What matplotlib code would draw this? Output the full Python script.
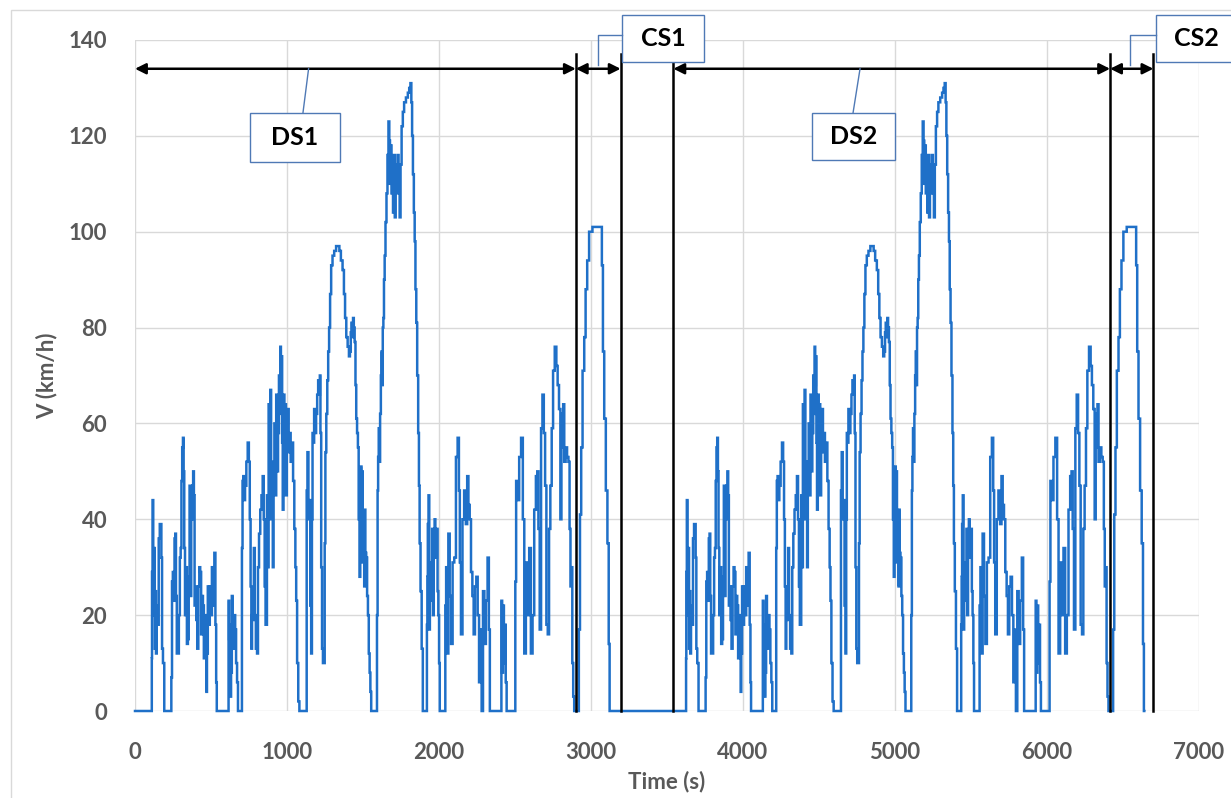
import matplotlib
matplotlib.use("Agg")
import matplotlib.pyplot as plt
from matplotlib.patches import Rectangle

# ---------------- data ----------------
# one test cycle (charge-depleting part + charge-sustaining part), time in s, speed in km/h
cycle_t = [0, 110, 111, 113, 118, 122, 125, 128, 132, 136, 140, 146, 152, 160, 166, 171, 176, 180, 188, 197,
           237, 241, 246, 252, 257, 263, 267, 272, 278, 285, 292, 298, 303, 308, 313, 318, 322, 326, 332, 338,
           345, 351, 356, 362, 367, 373, 380, 385, 390, 394, 400, 406, 413, 420, 426, 432, 438, 444, 450, 456,
           462, 468, 471, 476, 482, 488, 496, 502, 510, 518, 526, 532, 536, 540,
           614, 617, 622, 627, 630, 634, 640, 645, 650, 656, 662, 668, 675, 680,
           702, 705, 710, 715, 720, 728, 737, 746, 752, 758, 763, 768, 772, 778, 786, 790, 800, 806, 812, 820,
           828, 836, 844, 850, 856, 862, 866, 870, 876, 882, 887, 893, 898, 904, 909, 914, 920, 926, 932, 938,
           944, 950, 954, 958, 962, 966, 970, 974, 980, 986, 990, 996, 1002, 1008, 1014, 1020, 1028, 1036,
           1044, 1052, 1058, 1063, 1070, 1078, 1085,
           1128, 1131, 1138, 1144, 1150, 1156, 1162, 1166, 1170, 1176, 1181, 1188, 1195, 1202, 1208, 1214,
           1218, 1222, 1228, 1233, 1240, 1246, 1250, 1255, 1262, 1268, 1274, 1280, 1287, 1294, 1305, 1316,
           1330, 1340, 1349, 1360, 1371, 1378, 1386, 1394, 1404, 1411, 1417, 1422, 1426, 1432, 1437, 1442,
           1448, 1453, 1458, 1464, 1469, 1474, 1480, 1484, 1488, 1492, 1496, 1500, 1506, 1510, 1513, 1518,
           1524, 1530, 1535, 1541, 1546, 1551, 1557,
           1590, 1594, 1598, 1601, 1606, 1610, 1615, 1620, 1623, 1628, 1632, 1636, 1640, 1645, 1651, 1658,
           1664, 1671, 1675, 1680, 1685, 1690, 1695, 1700, 1706, 1712, 1718, 1724, 1730, 1738, 1744, 1750,
           1758, 1766, 1775, 1790, 1800, 1808, 1816, 1820, 1826, 1831, 1838, 1842, 1848, 1853, 1860, 1866,
           1870, 1875, 1882, 1890, 1897,
           1919, 1922, 1925, 1928, 1934, 1938, 1942, 1947, 1952, 1958, 1963, 1968, 1974, 1978, 1983, 1988,
           1993, 1998, 2003, 2007,
           2040, 2043, 2051, 2057, 2066, 2075, 2084, 2095, 2106, 2117, 2128, 2134, 2140, 2149, 2160, 2171,
           2182, 2189, 2198, 2206, 2215, 2224, 2232, 2241, 2250, 2259, 2268, 2276, 2285, 2294, 2303, 2314,
           2325, 2331, 2338,
           2408, 2413, 2418, 2424, 2430, 2436, 2442, 2448,
           2500, 2504, 2511, 2522, 2533, 2547, 2556, 2566, 2577, 2588, 2599, 2610, 2621, 2632, 2643, 2650,
           2658, 2667, 2676, 2685, 2694, 2702, 2711, 2720, 2728, 2737, 2746, 2755, 2768, 2776, 2785, 2794,
           2803, 2808, 2814, 2820, 2828, 2838, 2847, 2856, 2862, 2868, 2874, 2880, 2886, 2893,
           2917, 2923, 2932, 2939, 2950, 2961, 2968, 2982, 2993, 3004, 3015, 3030, 3045, 3059, 3068, 3075,
           3082, 3092, 3103, 3113, 3120, 3125]
cycle_v = [0, 0, 11, 29, 44, 30, 20, 34, 13, 25, 12, 22, 18, 36, 39, 39, 32, 13, 10, 0,
           0, 7, 27, 29, 23, 36, 37, 24, 12, 12, 20, 32, 34, 48, 55, 57, 50, 34, 20, 30,
           14, 15, 28, 47, 24, 40, 47, 50, 45, 22, 26, 19, 13, 26, 30, 29, 16, 24, 22, 11,
           18, 20, 4, 12, 26, 18, 26, 20, 30, 22, 33, 18, 6, 0,
           0, 23, 15, 18, 3, 8, 24, 15, 13, 20, 17, 10, 6, 0,
           0, 34, 48, 49, 44, 47, 52, 56, 52, 40, 26, 13, 20, 19, 34, 20, 13, 12, 30, 37,
           42, 45, 49, 40, 26, 18, 18, 45, 30, 64, 40, 67, 44, 52, 30, 48, 60, 45, 66, 50,
           58, 70, 62, 76, 68, 74, 56, 42, 66, 50, 64, 45, 60, 63, 54, 58, 52, 56,
           48, 38, 30, 23, 10, 2, 0,
           0, 46, 54, 40, 44, 22, 12, 40, 58, 56, 63, 58, 62, 66, 69, 66,
           70, 58, 30, 13, 10, 10, 35, 54, 62, 69, 75, 80, 87, 93, 95, 96,
           97, 97, 96, 94, 92, 87, 82, 78, 76, 74, 75, 79, 81, 78, 82, 80,
           77, 68, 61, 58, 55, 40, 28, 46, 51, 38, 50, 31, 40, 26, 42, 33,
           32, 24, 20, 12, 8, 4, 0,
           0, 20, 46, 53, 59, 52, 62, 70, 75, 68, 80, 82, 90, 95, 102, 108,
           116, 123, 119, 110, 118, 108, 112, 104, 116, 103, 114, 108, 116, 110, 103, 114,
           122, 125, 127, 128, 129, 130, 131, 127, 120, 112, 104, 98, 88, 81, 70, 58,
           47, 35, 25, 13, 0,
           0, 18, 28, 39, 45, 17, 23, 31, 24, 38, 20, 32, 40, 36, 32, 38,
           25, 20, 10, 0,
           0, 22, 30, 12, 37, 24, 14, 31, 32, 53, 57, 46, 31, 16, 40, 46,
           39, 49, 43, 40, 29, 24, 16, 26, 28, 20, 6, 17, 0, 25, 14, 23,
           32, 17, 0,
           0, 23, 8, 22, 10, 18, 6, 0,
           0, 27, 48, 44, 53, 57, 40, 12, 31, 20, 34, 12, 20, 42, 49, 50,
           38, 17, 59, 66, 58, 47, 18, 16, 38, 47, 59, 71, 76, 72, 68, 63,
           40, 62, 55, 64, 52, 55, 53, 52, 38, 26, 30, 10, 3, 0,
           0, 17, 41, 55, 71, 78, 88, 94, 100, 100, 101, 101, 101, 101, 101, 93,
           75, 61, 46, 35, 14, 0]
cycle_shift = 3515          # second cycle starts this many seconds later

phase_bounds = [2900, 3195, 3542, 6415, 6700]   # vertical separators (s)
phase_tops = [137, 137, 135.5, 137, 137]        # top of separator lines (km/h)
phase_spans = [(0, 2900), (2900, 3195), (3542, 6415), (6415, 6700)]

x_ticks = [0, 1000, 2000, 3000, 4000, 5000, 6000, 7000]
y_ticks = [0, 20, 40, 60, 80, 100, 120, 140]

time = cycle_t + [t + cycle_shift for t in cycle_t]
speed = cycle_v + cycle_v

# ---------------- figure ----------------
FONT = ["Lato", "DejaVu Sans"]
plt.rcParams["font.family"] = FONT
GRAY = "#595959"
BLUE = "#1f70c8"
BOXEDGE = "#4f79b5"

fig = plt.figure(figsize=(12.31, 7.98), dpi=100)
fig.patches.append(Rectangle((11 / 1231, -0.05), 1.1, (798 - 10) / 798 + 0.05,
                             transform=fig.transFigure, fill=False,
                             edgecolor="#d9d9d9", lw=1.0))
ax = fig.add_axes([135 / 1231, (798 - 711) / 798, (1199 - 135) / 1231, (711 - 40) / 798])

ax.plot(time, speed, color=BLUE, lw=1.8, clip_on=False, zorder=3,
        drawstyle="steps-mid", solid_joinstyle="miter")

ax.set_xlim(0, 7000)
ax.set_ylim(0, 140)
ax.set_xticks(x_ticks)
ax.set_yticks(y_ticks)
ax.grid(True, color="#d9d9d9", lw=1.0)
ax.set_axisbelow(True)
for s in ax.spines.values():
    s.set_visible(False)
ax.tick_params(length=0, labelsize=16, labelcolor=GRAY, pad=0)
ax.tick_params(axis="x", pad=22)
ax.tick_params(axis="y", pad=20)
for lab in ax.get_xticklabels() + ax.get_yticklabels():
    lab.set_fontweight("bold")
ax.set_xlabel("Time (s)", fontsize=16, fontweight="bold", color=GRAY, labelpad=6)
ax.set_ylabel("V (km/h)", fontsize=16, fontweight="bold", color=GRAY, labelpad=8)

# separators
for xb, top in zip(phase_bounds, phase_tops):
    ax.plot([xb, xb], [0, top], color="black", lw=1.8, zorder=4, clip_on=False)

# double arrows
arrow_y = 134
for (a, b) in phase_spans:
    ax.annotate("", xy=(b, arrow_y), xytext=(a, arrow_y),
                arrowprops=dict(arrowstyle="<|-|>", color="black", lw=1.8,
                                mutation_scale=16, shrinkA=0, shrinkB=0),
                zorder=5, annotation_clip=False)

# callouts: box (x0, x1, y0, y1) in data units, text centre, leader polyline
callouts = [
    dict(name="DS1", box=(757, 1349, 114.5, 124.8), tx=1053,
         leader=[(1105, 124.8), (1142, 134)]),
    dict(name="CS1", box=(3204, 3743, 135.4, 145.2), tx=3473,
         leader=[(3204, 141.0), (3046, 141.0), (3046, 134.8)]),
    dict(name="DS2", box=(4454, 5000, 114.9, 124.8), tx=4727,
         leader=[(4724, 124.8), (4770, 134)]),
    dict(name="CS2", box=(6717, 7300, 135.4, 145.2), tx=6985,
         leader=[(6717, 141.0), (6546, 141.0), (6546, 134.8)]),
]
for c in callouts:
    x0, x1, y0, y1 = c["box"]
    ax.add_patch(Rectangle((x0, y0), x1 - x0, y1 - y0, facecolor="white",
                           edgecolor=BOXEDGE, lw=1.0, zorder=6, clip_on=False))
    lx = [p[0] for p in c["leader"]]
    ly = [p[1] for p in c["leader"]]
    ax.plot(lx, ly, color=BOXEDGE, lw=1.0, zorder=6, clip_on=False)
    ax.text(c["tx"], (y0 + y1) / 2, c["name"], ha="center", va="center",
            fontsize=18, fontweight="bold", color="black", zorder=7)

fig.savefig("out.png", dpi=100)
